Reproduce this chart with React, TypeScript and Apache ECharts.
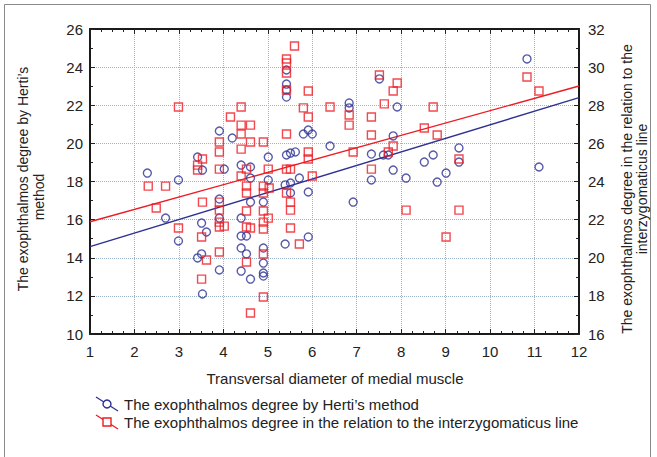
import React, { useEffect, useRef } from "react";
import * as echarts from "echarts";

// Blue circles: exophthalmos degree by Herti's method (left axis)
const hertiX = [2.29, 2.70, 2.99, 2.99, 3.42, 3.53, 3.51, 3.62, 3.51, 3.42, 3.53, 3.91, 4.02, 3.91, 3.91, 3.91, 4.20, 4.40, 4.61, 4.61, 5.01, 5.01, 4.61, 4.90, 4.40, 4.40, 4.52, 4.40, 4.52, 4.40, 4.61, 4.90, 4.90, 4.90, 4.90, 5.42, 5.42, 5.42, 5.42, 5.42, 5.51, 5.62, 5.80, 5.91, 6.00, 6.40, 5.39, 5.51, 5.71, 5.91, 5.51, 5.39, 5.91, 6.83, 6.83, 6.92, 7.51, 7.91, 7.82, 7.33, 7.60, 7.71, 7.82, 7.33, 8.11, 8.52, 8.72, 9.01, 8.81, 9.30, 9.30, 10.83, 11.10];
const hertiY = [18.44, 16.08, 18.08, 14.88, 19.28, 18.60, 15.82, 15.35, 14.20, 13.99, 12.10, 20.65, 18.65, 17.08, 16.08, 13.36, 20.28, 18.86, 18.76, 18.18, 18.08, 19.28, 16.92, 16.92, 16.08, 15.14, 15.14, 14.51, 14.20, 13.30, 12.88, 14.51, 13.72, 13.20, 13.04, 23.85, 23.11, 22.80, 22.43, 19.39, 19.49, 19.55, 20.49, 20.70, 20.49, 19.86, 17.82, 17.92, 18.18, 17.45, 17.40, 14.72, 15.09, 22.12, 21.86, 16.92, 23.38, 21.91, 20.39, 19.44, 19.39, 19.39, 18.60, 18.08, 18.18, 19.02, 19.39, 18.44, 17.97, 19.76, 19.02, 24.43, 18.76];

// Red squares: exophthalmos degree relative to the interzygomaticus line (right axis)
const interX = [2.99, 2.31, 2.70, 2.49, 2.99, 3.42, 3.42, 3.53, 3.53, 3.51, 3.62, 3.51, 3.91, 3.91, 3.91, 3.91, 3.91, 3.91, 3.91, 4.02, 3.91, 4.16, 4.40, 4.40, 4.61, 4.40, 4.61, 4.90, 4.40, 4.52, 5.01, 4.40, 4.52, 4.52, 4.90, 4.90, 5.03, 4.52, 4.90, 5.01, 4.90, 4.90, 4.52, 4.61, 4.90, 4.52, 4.90, 4.61, 5.60, 5.42, 5.42, 5.42, 5.42, 5.91, 5.80, 5.91, 5.42, 5.91, 5.91, 5.42, 5.51, 6.00, 5.42, 5.51, 5.51, 5.51, 5.71, 6.40, 6.83, 6.83, 6.92, 7.33, 7.33, 7.33, 7.51, 7.91, 7.82, 7.62, 7.82, 7.71, 8.11, 8.72, 8.52, 8.81, 9.30, 9.30, 9.01, 10.83, 11.10];
const interY = [27.91, 23.76, 23.76, 22.61, 21.56, 24.86, 24.60, 25.18, 22.92, 21.09, 19.88, 18.88, 26.07, 25.55, 24.65, 22.92, 22.50, 21.87, 21.61, 21.66, 20.30, 27.38, 27.91, 26.96, 26.96, 26.49, 26.07, 26.07, 25.70, 24.65, 24.65, 24.29, 23.76, 23.40, 23.76, 23.40, 23.66, 22.45, 22.45, 22.08, 21.87, 21.51, 21.61, 21.56, 20.20, 19.78, 17.94, 17.10, 31.11, 30.43, 30.22, 29.69, 28.80, 28.75, 27.86, 27.38, 26.49, 25.55, 25.18, 24.65, 24.65, 24.29, 23.40, 22.92, 22.50, 21.56, 20.72, 27.91, 27.49, 26.96, 25.55, 27.38, 26.44, 24.65, 29.59, 29.17, 28.75, 28.07, 25.86, 25.55, 22.50, 27.91, 26.81, 26.44, 25.18, 22.50, 21.09, 29.48, 28.75];

// Regression line end points
const lineX = [1, 12];
const hertiFit = [14.58, 22.40];
const interFit = [21.89, 29.01];

const xTicks = { min: 1, max: 12, interval: 1 };
const leftTicks = { min: 10, max: 26, interval: 2 };
const rightTicks = { min: 16, max: 32, interval: 2 };

const legendLabels = [
  "The exophthalmos degree by Herti’s method",
  "The exophthalmos degree in the relation to the interzygomaticus line",
];
const xName = "Transversal diameter of medial muscle";
const leftName = ["The exophthalmos degree by Herti’s", "method"];
const rightName = ["The exophthalmos degree in the relation to the", "interzygomaticus line"];

const BLUE = "#2e3192";
const RED = "#ec1c24";
const FONT = "Liberation Sans, Arial, sans-serif";

const zip = (a: number[], b: number[]) => a.map((v, i) => [v, b[i]]);

export default function App() {
  const ref = useRef<HTMLDivElement>(null);
  useEffect(() => {
    if (!ref.current) return;
    const chart = echarts.init(ref.current, null, { renderer: "svg" });
    const axisLine = { show: true, lineStyle: { color: "#1a1a1a", width: 2 } };
    const grid = { show: true, lineStyle: { color: "#9db3c9", type: "dotted" as const, width: 1 } };
    const label = { color: "#222", fontSize: 15, fontFamily: FONT };
    const tick = { show: true, inside: true, length: 5, lineStyle: { color: "#222" } };
    chart.setOption({
      animation: false,
      backgroundColor: "#fff",
      grid: { left: 90, right: 78, top: 29, bottom: 123 },
      xAxis: [
        {
          type: "value", ...xTicks, position: "bottom",
          axisLine, axisTick: tick,
          minorTick: { show: true, splitNumber: 4, length: 3, lineStyle: { color: "#222" } },
          splitLine: grid,
          axisLabel: { ...label, margin: 10 },
        },
        {
          type: "value", ...xTicks, position: "top",
          axisLine, axisTick: tick,
          minorTick: { show: true, splitNumber: 4, length: 3, lineStyle: { color: "#222" } },
          splitLine: { show: false }, axisLabel: { show: false },
        },
      ],
      yAxis: [
        {
          type: "value", ...leftTicks, position: "left",
          axisLine, axisTick: tick,
          minorTick: { show: true, splitNumber: 2, length: 3, lineStyle: { color: "#222" } },
          splitLine: grid,
          axisLabel: { ...label, margin: 7 },
        },
        {
          type: "value", ...rightTicks, position: "right",
          axisLine, axisTick: tick,
          minorTick: { show: true, splitNumber: 2, length: 3, lineStyle: { color: "#222" } },
          splitLine: { show: false },
          axisLabel: { ...label, margin: 9 },
        },
      ],
      series: [
        {
          type: "line", xAxisIndex: 0, yAxisIndex: 0, data: zip(lineX, hertiFit),
          symbol: "none", lineStyle: { color: BLUE, width: 1.4 }, z: 3,
        },
        {
          type: "line", xAxisIndex: 0, yAxisIndex: 1, data: zip(lineX, interFit),
          symbol: "none", lineStyle: { color: RED, width: 1.4 }, z: 3,
        },
        {
          type: "scatter", xAxisIndex: 0, yAxisIndex: 0, data: zip(hertiX, hertiY),
          symbol: "circle", symbolSize: 8,
          itemStyle: { color: "rgba(0,0,0,0)", borderColor: BLUE, borderWidth: 1.4 }, z: 4,
        },
        {
          type: "scatter", xAxisIndex: 0, yAxisIndex: 1, data: zip(interX, interY),
          symbol: "rect", symbolSize: 8,
          itemStyle: { color: "rgba(0,0,0,0)", borderColor: RED, borderWidth: 1.4 }, z: 5,
        },
      ],
      graphic: [
        { type: "rect", shape: { x: 4.5, y: 4.5, width: 646, height: 460 }, style: { fill: "none", stroke: "#8a8a8a", lineWidth: 1 }, silent: true },
        { type: "text", x: 23, y: 179, rotation: Math.PI / 2, style: { text: leftName[0], fill: "#222", font: `14px ${FONT}`, textAlign: "center", textVerticalAlign: "middle" } },
        { type: "text", x: 39, y: 197, rotation: Math.PI / 2, style: { text: leftName[1], fill: "#222", font: `14px ${FONT}`, textAlign: "center", textVerticalAlign: "middle" } },
        { type: "text", x: 627, y: 189, rotation: Math.PI / 2, style: { text: rightName[0], fill: "#222", font: `14px ${FONT}`, textAlign: "center", textVerticalAlign: "middle" } },
        { type: "text", x: 642, y: 189, rotation: Math.PI / 2, style: { text: rightName[1], fill: "#222", font: `14px ${FONT}`, textAlign: "center", textVerticalAlign: "middle" } },
        { type: "text", x: 335, y: 378, style: { text: xName, fill: "#222", font: `15px ${FONT}`, textAlign: "center", textVerticalAlign: "middle" } },
        { type: "line", shape: { x1: 96, y1: 397, x2: 118, y2: 411 }, style: { stroke: BLUE, lineWidth: 1.3 } },
        { type: "circle", shape: { cx: 107, cy: 404, r: 4 }, style: { fill: "#fff", stroke: BLUE, lineWidth: 1.4 } },
        { type: "text", x: 124, y: 404, style: { text: legendLabels[0], fill: "#222", font: `15px ${FONT}`, textAlign: "left", textVerticalAlign: "middle" } },
        { type: "line", shape: { x1: 96, y1: 415, x2: 118, y2: 429 }, style: { stroke: RED, lineWidth: 1.3 } },
        { type: "rect", shape: { x: 103, y: 418, width: 8, height: 8 }, style: { fill: "#fff", stroke: RED, lineWidth: 1.4 } },
        { type: "text", x: 124, y: 422, style: { text: legendLabels[1], fill: "#222", font: `15px ${FONT}`, textAlign: "left", textVerticalAlign: "middle" } },
      ],
    });
    return () => chart.dispose();
  }, []);
  return <div ref={ref} style={{ position: "absolute", left: 0, top: 0, width: 657, height: 457 }} />;
}
